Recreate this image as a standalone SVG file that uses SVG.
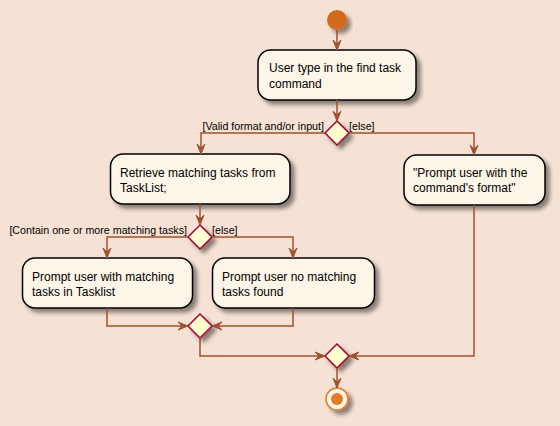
<svg xmlns="http://www.w3.org/2000/svg" width="560" height="426" viewBox="0 0 560 426">
<defs>
<filter id="sh" x="-20%" y="-20%" width="150%" height="160%">
<feGaussianBlur in="SourceAlpha" stdDeviation="2"/>
<feColorMatrix type="matrix" values="0 0 0 0 0  0 0 0 0 0  0 0 0 0 0  0 0 0 0.45 0"/>
<feOffset dx="4" dy="4" result="s"/>
<feMerge><feMergeNode in="s"/><feMergeNode in="SourceGraphic"/></feMerge>
</filter>
<marker id="ah" viewBox="0 0 10 10" refX="10" refY="5" markerWidth="10" markerHeight="10" markerUnits="userSpaceOnUse" orient="auto">
<path d="M0,1 L10,5 L0,9 L4,5 Z" fill="#A0522D" stroke="#A0522D" stroke-width="1"/>
</marker>
</defs>
<style>
.act rect{fill:#FDF5E8;stroke:#000;stroke-width:1.5;filter:url(#sh)}
.act text{font-family:"Liberation Sans",Arial,sans-serif;font-size:12px;fill:#000}
.dia polygon{fill:#FEFECE;stroke:#A80036;stroke-width:1.5;filter:url(#sh)}
.lbl{font-family:"Liberation Sans",Arial,sans-serif;font-size:10.7px;fill:#000}
.con path{fill:none;stroke:#A0522D;stroke-width:1.5;marker-end:url(#ah)}
</style>
<rect width="560" height="426" fill="#F6E2D5"/>
<g id="start"><circle cx="337" cy="20" r="10" fill="#D2691E" filter="url(#sh)"/></g>
<g id="n1" class="act"><rect x="258" y="50" width="158" height="50" rx="12.5"/>
<text x="269" y="72">User type in the find task</text><text x="269" y="88">command</text></g>
<g id="d1" class="dia"><polygon points="337,121 349,133 337,145 325,133"/></g>
<g id="n2" class="act"><rect x="110.5" y="154" width="179.5" height="50" rx="12.5"/>
<text x="120" y="177">Retrieve matching tasks from</text><text x="120" y="192">TaskList;</text></g>
<g id="n3" class="act"><rect x="404" y="155" width="141" height="50" rx="12.5"/>
<text x="413" y="177">"Prompt user with the</text><text x="413" y="192">command's format"</text></g>
<g id="d2" class="dia"><polygon points="200,225 212,237 200,249 188,237"/></g>
<g id="n4" class="act"><rect x="22.5" y="258" width="170" height="50" rx="12.5"/>
<text x="32" y="281">Prompt user with matching</text><text x="32" y="296">tasks in Tasklist</text></g>
<g id="n5" class="act"><rect x="212.5" y="258" width="162" height="50" rx="12.5"/>
<text x="222" y="281">Prompt user no matching</text><text x="222" y="296">tasks found</text></g>
<g id="d3" class="dia"><polygon points="200,314 212,326 200,338 188,326"/></g>
<g id="d4" class="dia"><polygon points="337,344 349,356 337,368 325,356"/></g>
<g id="end"><circle cx="337" cy="399" r="11" fill="#FDF5E8" stroke="#E07B2A" stroke-width="1.5" filter="url(#sh)"/><circle cx="337" cy="399" r="6" fill="#E07B2A"/></g>
<g id="connectors" class="con">
<path d="M337,30 V50"/>
<path d="M337,100 V121"/>
<path d="M325,133 H201 V154"/>
<path d="M349,133 H474 V155"/>
<path d="M200,204 V225"/>
<path d="M188,237 H107 V258"/>
<path d="M212,237 H293 V258"/>
<path d="M107,308 V326 H188"/>
<path d="M293,308 V326 H212"/>
<path d="M200,338 V356 H325"/>
<path d="M474,205 V356 H349"/>
<path d="M337,368 V388"/>
</g>
<g id="labels">
<text class="lbl" x="324" y="130" text-anchor="end">[Valid format and/or input]</text>
<text class="lbl" x="349" y="130">[else]</text>
<text class="lbl" x="187" y="234" text-anchor="end">[Contain one or more matching tasks]</text>
<text class="lbl" x="212" y="234">[else]</text>
</g>
</svg>
